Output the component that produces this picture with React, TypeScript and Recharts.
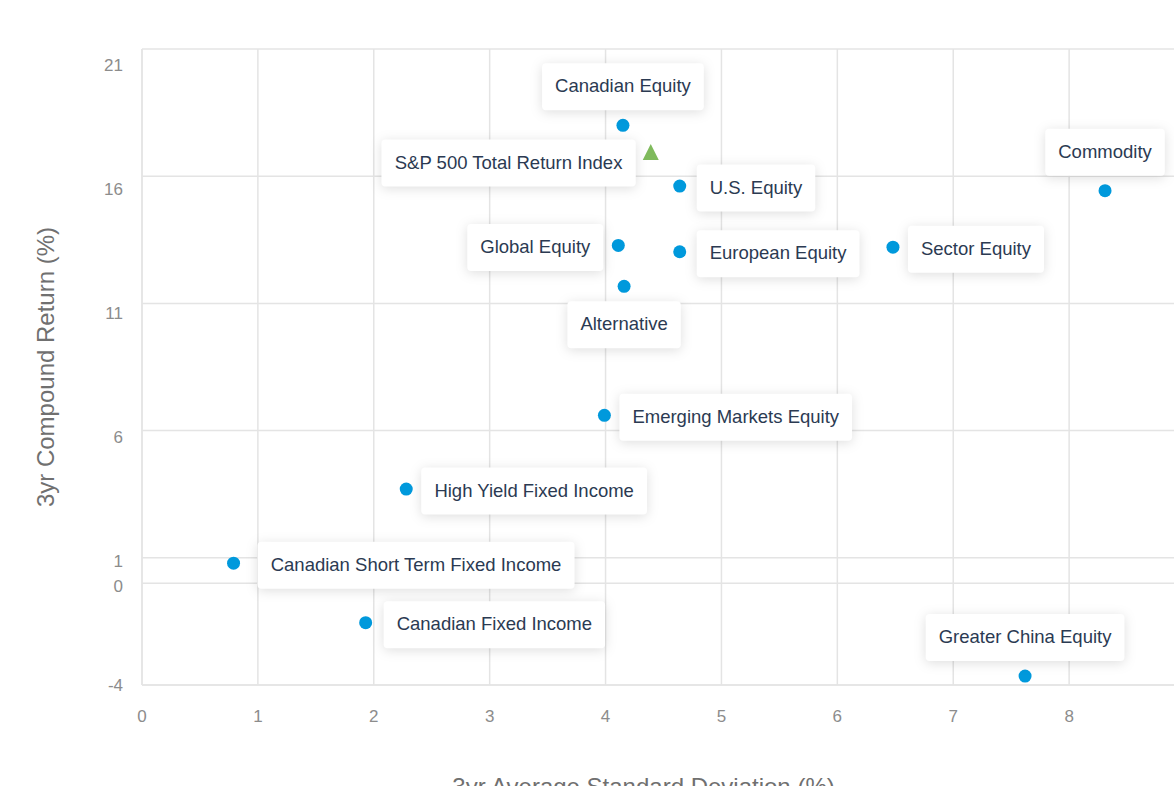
import { ScatterChart, Scatter, XAxis, YAxis, CartesianGrid } from 'recharts';

// fund categories
const fundNames = [
  'Canadian Equity',
  'U.S. Equity',
  'Commodity',
  'Global Equity',
  'European Equity',
  'Sector Equity',
  'Alternative',
  'Emerging Markets Equity',
  'High Yield Fixed Income',
  'Canadian Short Term Fixed Income',
  'Canadian Fixed Income',
  'Greater China Equity',
];
const fundStdDev = [4.15, 4.64, 8.31, 4.11, 4.64, 6.48, 4.16, 3.99, 2.28, 0.79, 1.93, 7.62];
const fundReturn = [18.0, 15.61, 15.43, 13.28, 13.03, 13.21, 11.67, 6.6, 3.7, 0.79, -1.55, -3.65];

const benchmarkNames = ['S&P 500 Total Return Index'];
const benchmarkStdDev = [4.39];
const benchmarkReturn = [16.95];

const xTicks = [0, 1, 2, 3, 4, 5, 6, 7, 8];
const yTicks = [-4, 0, 1, 6, 11, 16, 21];

const funds = fundNames.map((name, i) => ({ name, x: fundStdDev[i], y: fundReturn[i] }));
const benchmark = benchmarkNames.map((name, i) => ({ name, x: benchmarkStdDev[i], y: benchmarkReturn[i] }));

// where each callout sits relative to its point
const labelSide: Record<string, 'top' | 'left' | 'right' | 'bottom'> = {
  'Canadian Equity': 'top',
  'S&P 500 Total Return Index': 'left',
  'U.S. Equity': 'right',
  Commodity: 'top',
  'Global Equity': 'left',
  'European Equity': 'right',
  'Sector Equity': 'right',
  Alternative: 'bottom',
  'Emerging Markets Equity': 'right',
  'High Yield Fixed Income': 'right',
  'Canadian Short Term Fixed Income': 'right',
  'Canadian Fixed Income': 'right',
  'Greater China Equity': 'top',
};
// small hand nudges so the callouts don't crowd each other
const labelNudge: Record<string, { dx?: number; dy?: number }> = {
  'S&P 500 Total Return Index': { dy: 9 },
  'Canadian Short Term Fixed Income': { dx: 9 },
  'Canadian Fixed Income': { dx: 3 },
  'U.S. Equity': { dx: 2 },
  'European Equity': { dx: 2 },
};

const FONT = '"Liberation Sans", Arial, Helvetica, sans-serif';
const LABEL_SIZE = 18.5;

let measureCtx: CanvasRenderingContext2D | null = null;
function textWidth(s: string) {
  if (!measureCtx) measureCtx = document.createElement('canvas').getContext('2d');
  if (!measureCtx) return s.length * 9.5;
  measureCtx.font = `${LABEL_SIZE}px "Liberation Sans", Arial, sans-serif`;
  return measureCtx.measureText(s).width;
}

const Dot = (props: any) => <circle cx={props.cx} cy={props.cy} r={6.5} fill="#0099dc" />;

const Triangle = (props: any) => {
  const { cx, cy } = props;
  return <polygon points={`${cx},${cy - 8} ${cx + 8},${cy + 8} ${cx - 8},${cy + 8}`} fill="#7fba5c" />;
};

const Callout = (props: any) => {
  const { cx, cy, payload } = props;
  const name: string = payload.name;
  const side = labelSide[name] || 'right';
  const nudge = labelNudge[name] || {};
  const w = textWidth(name) + 26;
  const h = 47;
  const gap = 15;
  let bx = cx + gap;
  let by = cy + 2 - h / 2;
  if (side === 'left') bx = cx - gap - w;
  if (side === 'top') {
    bx = cx - w / 2;
    by = cy - gap - h;
  }
  if (side === 'bottom') {
    bx = cx - w / 2;
    by = cy + gap;
  }
  bx += nudge.dx || 0;
  by += nudge.dy || 0;
  return (
    <g>
      <rect
        x={bx}
        y={by}
        width={w}
        height={h}
        rx={4}
        fill="#fff"
        style={{ filter: 'drop-shadow(0px 2px 6px rgba(0,0,0,0.13))' }}
      />
      <text x={bx + w / 2} y={by + 29} textAnchor="middle" fill="#2b3a52" fontSize={LABEL_SIZE} fontFamily={FONT}>
        {name}
      </text>
    </g>
  );
};

const YTick = (props: any) => {
  const { x, y, payload } = props;
  // labels drift a little below their grid lines in the original
  const shift = (payload.value + 4) * 0.64;
  return (
    <text x={x} y={y + shift} dy="0.36em" textAnchor="end" fill="#8c8c8c" fontSize={17} fontFamily={FONT}>
      {payload.value}
    </text>
  );
};

export default function App() {
  return (
    <div style={{ position: 'fixed', left: 0, top: 0, width: 1174, height: 786, overflow: 'hidden', background: '#fff' }}>
      <ScatterChart width={1200} height={800} margin={{ top: 49, right: 15, bottom: 0, left: 0 }} style={{ fontFamily: FONT }}>
        <CartesianGrid stroke="#e4e4e4" strokeWidth={1.5} />
        <XAxis
          type="number"
          dataKey="x"
          domain={[0, 9]}
          ticks={xTicks}
          height={115}
          tickLine={false}
          tickSize={0}
          tickMargin={25}
          axisLine={{ stroke: '#e4e4e4', strokeWidth: 1.5 }}
          tick={{ fill: '#8c8c8c', fontSize: 17 }}
          label={{ value: '3yr Average Standard Deviation (%)', position: 'insideBottom', offset: 5, dx: -20, fill: '#707070', fontSize: 24 }}
        />
        <YAxis
          type="number"
          dataKey="y"
          domain={[-4, 21]}
          ticks={yTicks}
          width={142}
          tickLine={false}
          tickSize={0}
          tickMargin={19}
          axisLine={{ stroke: '#e4e4e4', strokeWidth: 1.5 }}
          tick={<YTick />}
          label={{ value: '3yr Compound Return (%)', angle: -90, position: 'insideLeft', offset: 45, fill: '#707070', fontSize: 24, style: { textAnchor: 'middle' } }}
        />
        <Scatter name="Benchmark" data={benchmark} shape={<Triangle />} isAnimationActive={false} />
        <Scatter name="Funds" data={funds} shape={<Dot />} isAnimationActive={false} />
        <Scatter name="Labels" data={[...benchmark, ...funds]} shape={<Callout />} isAnimationActive={false} />
      </ScatterChart>
    </div>
  );
}
